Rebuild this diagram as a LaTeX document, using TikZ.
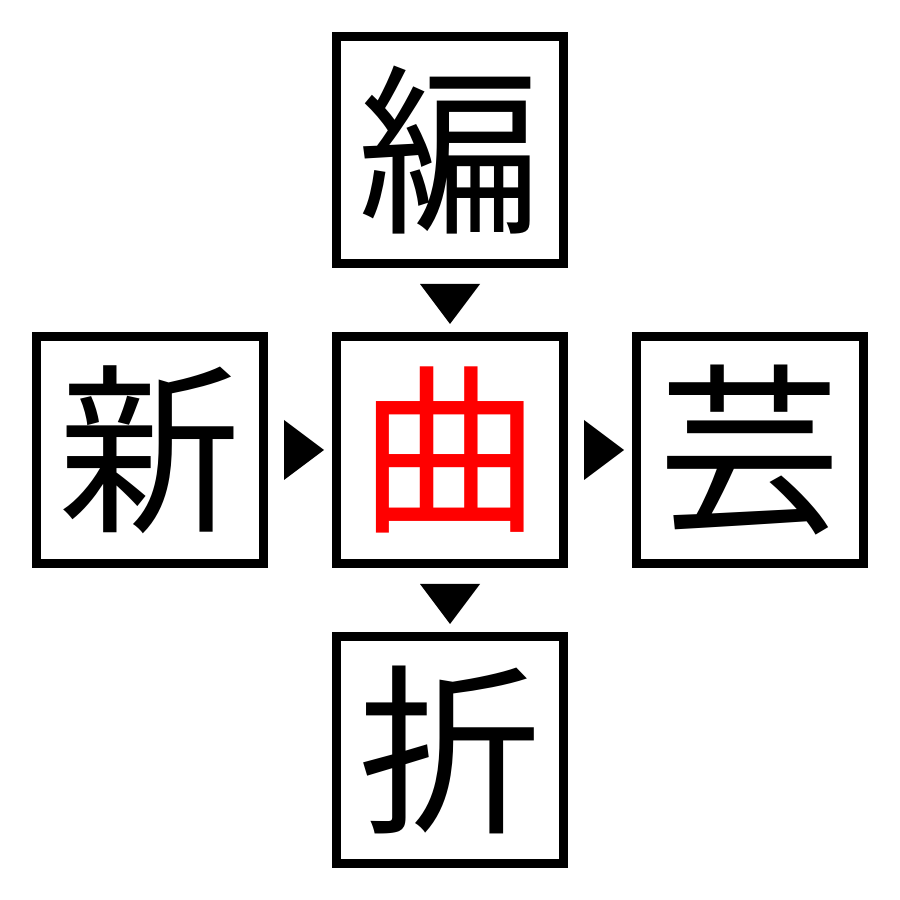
\documentclass[tikz,border=0pt]{standalone}
\usepackage{fontspec}
\newfontfamily\cjk{Noto Sans CJK JP}
\usetikzlibrary{calc}
\begin{document}
\begin{tikzpicture}[x=1cm,y=1cm,
  kbox/.style={draw=black,line width=0.09cm,minimum size=2.27cm,inner sep=0pt,font=\cjk\fontsize{52}{52}\selectfont},
  tri/.style={fill=black}]
\useasboundingbox (0,0) rectangle (9,9);
\node[kbox] (c) at (4.5,4.5) {\textcolor{red}{曲}};
\node[kbox] (t) at (4.5,7.5) {編};
\node[kbox] (b) at (4.5,1.5) {折};
\node[kbox] (l) at (1.5,4.5) {新};
\node[kbox] (r) at (7.5,4.5) {芸};
\fill[tri] ($(t.south)+(-0.3,-0.16)$) -- ($(t.south)+(0.3,-0.16)$) -- ($(t.south)+(0,-0.56)$) -- cycle;
\fill[tri] ($(c.south)+(-0.3,-0.16)$) -- ($(c.south)+(0.3,-0.16)$) -- ($(c.south)+(0,-0.56)$) -- cycle;
\fill[tri] ($(l.east)+(0.16,0.3)$) -- ($(l.east)+(0.16,-0.3)$) -- ($(l.east)+(0.56,0)$) -- cycle;
\fill[tri] ($(c.east)+(0.16,0.3)$) -- ($(c.east)+(0.16,-0.3)$) -- ($(c.east)+(0.56,0)$) -- cycle;
\end{tikzpicture}
\end{document}
